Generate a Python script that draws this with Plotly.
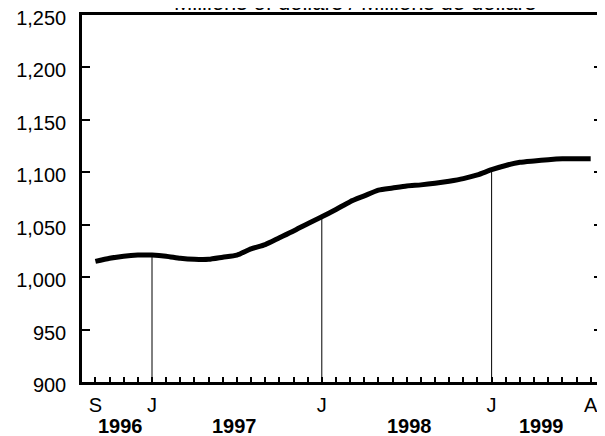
import plotly.graph_objects as go

# Monthly values, Sep 1996 .. Aug 1999 (millions of dollars)
months = list(range(36))
values = [1015, 1018, 1020, 1021, 1021, 1020, 1018, 1017, 1017, 1019, 1021, 1027,
          1031, 1037.5, 1044, 1051, 1057.5, 1064.5, 1072, 1077.5, 1083, 1085,
          1087, 1088, 1089.5, 1091.5, 1094, 1097.5, 1102.5, 1106.5, 1109.5,
          1110.8, 1112, 1112.8, 1113, 1113]

tick_idx = [0, 4, 16, 28, 35]
tick_text = ["S", "J", "J", "J", "A"]
january_idx = [4, 16, 28]
years = ["1996", "1997", "1998", "1999"]
year_pos = [1.8, 9.8, 22.2, 31.5]
y_ticks = [900, 950, 1000, 1050, 1100, 1150, 1200, 1250]

FONT = "Liberation Sans, Arial, sans-serif"

fig = go.Figure()

# thin drop lines from the axis up to the curve at each January
jx, jy = [], []
for i in january_idx:
    jx += [i, i, None]
    jy += [900, values[i], None]
fig.add_trace(go.Scatter(x=jx, y=jy, mode="lines", line=dict(color="black", width=1), hoverinfo="skip", showlegend=False))

fig.add_trace(go.Scatter(x=months, y=values, mode="lines", line=dict(color="black", width=5, shape="spline", smoothing=0.6), showlegend=False))

for yr, pos in zip(years, year_pos):
    fig.add_annotation(x=pos, y=0, xref="x", yref="paper", yanchor="top", yshift=-31, text=f"<b>{yr}</b>", showarrow=False, font=dict(family=FONT, size=20, color="black"))

fig.add_annotation(x=0.525, y=1, xref="paper", yref="paper", yanchor="bottom", yshift=-2, text="Millions of dollars / Millions de dollars", showarrow=False, font=dict(family=FONT, size=22, color="black"))

fig.update_layout(width=605, height=436, margin=dict(l=74, r=11, t=7, b=62), plot_bgcolor="white", paper_bgcolor="white", font=dict(family=FONT, size=20, color="black"))
fig.update_xaxes(range=[-0.947, 35.8], tickmode="array", tickvals=tick_idx, ticktext=tick_text, ticks="inside", ticklen=5, tickwidth=1.5, tickcolor="black",
                 minor=dict(tickmode="linear", tick0=0, dtick=1, ticks="inside", ticklen=5, tickwidth=1.5, tickcolor="black"),
                 showline=True, linecolor="black", linewidth=2.5, mirror=True, showgrid=False, zeroline=False, ticklabelstandoff=3, automargin=False, ticklabeloverflow="allow")
fig.update_yaxes(range=[900, 1250], tickmode="array", tickvals=y_ticks, tickformat=",d", ticks="inside", ticklen=8, tickwidth=1.5, tickcolor="black",
                 showline=True, linecolor="black", linewidth=2.5, mirror="ticks", showgrid=False, zeroline=False, ticklabelstandoff=9, ticklabelshift=3,
                 automargin=False, ticklabeloverflow="allow")

fig.write_html("out.html")
